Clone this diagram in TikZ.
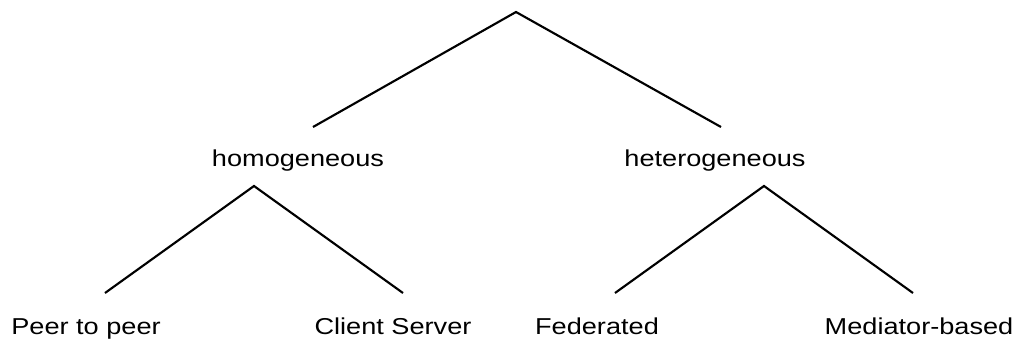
\documentclass[tikz,border=0pt]{standalone}
\usepackage{fontspec}
\setmainfont[FakeStretch=1.18]{Liberation Sans}

\tikzset{
  branch/.style={line width=1.6pt},
  lbl/.style={anchor=base, inner sep=0pt, font=\fontsize{17.25}{20}\selectfont}
}

\begin{document}
\begin{tikzpicture}[x=0.75pt, y=-0.75pt]
            % Page frame
            \useasboundingbox (0,0) rectangle (1018,340);
            % Apex points of the three branchings
            \coordinate (root) at (516,12);
            \coordinate (homoTop) at (254,186);
            \coordinate (heteroTop) at (764,186);
            % Free ends of the branches
            \coordinate (rootL) at (313,127);
            \coordinate (rootR) at (721,127);
            \coordinate (homoL) at (105,293);
            \coordinate (homoR) at (403,293);
            \coordinate (heteroL) at (615,293);
            \coordinate (heteroR) at (913,293);
            % Second level
            \node[lbl] (homo) at (298,166) {homogeneous};
            \node[lbl] (hetero) at (715,166) {heterogeneous};
            % Leaves
            \node[lbl] (p2p) at (86,334) {Peer to peer};
            \node[lbl] (cs) at (393,334) {Client Server};
            \node[lbl] (fed) at (597,334) {Federated};
            \node[lbl] (med) at (919,334) {Mediator-based};
            % Branches
            \draw[branch] (rootL) -- (root) -- (rootR);
            \draw[branch] (homoL) -- (homoTop) -- (homoR);
            \draw[branch] (heteroL) -- (heteroTop) -- (heteroR);
        \end{tikzpicture}
\end{document}
